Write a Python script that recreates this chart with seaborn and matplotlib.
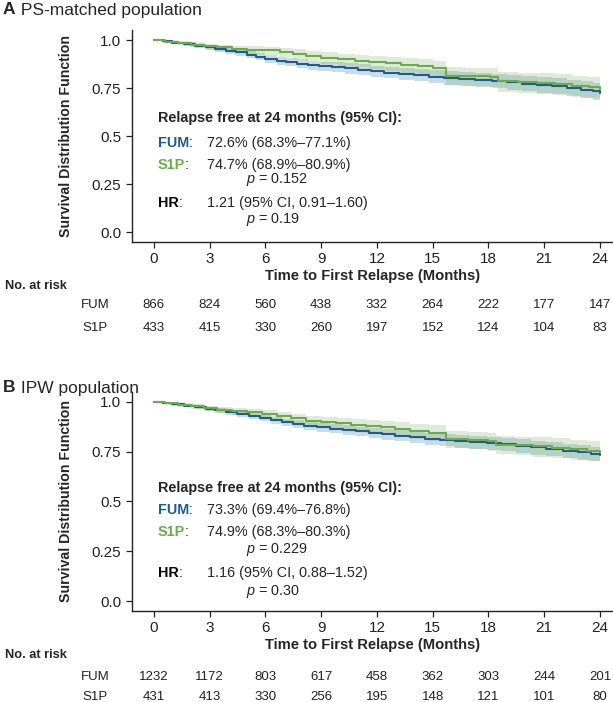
import matplotlib
matplotlib.use("Agg")
import matplotlib.pyplot as plt
import matplotlib.transforms as mtrans
import seaborn as sns

# ---- data ----
ticks_x = [0, 3, 6, 9, 12, 15, 18, 21, 24]
ticks_y = [0.0, 0.25, 0.5, 0.75, 1.0]
ticklab_y = ["0.0", "0.25", "0.5", "0.75", "1.0"]

# panel A: PS-matched
a_fum_t = [0, 0.5, 1.0, 1.6, 2.2, 2.8, 3.3, 3.9, 4.4, 5.0, 5.5, 6.0, 6.6, 7.1, 7.7, 8.3, 8.9, 9.6, 10.3,
           11.0, 11.7, 12.4, 13.2, 14.0, 14.8, 15.6, 16.4, 17.3, 18.2, 19.0, 19.8, 20.6, 21.4, 22.2, 23.0, 23.6, 24.0]
a_fum_s = [1.0, .993, .985, .978, .970, .962, .953, .944, .935, .924, .912, .902, .893, .884, .876, .868, .862, .857, .852,
           .846, .838, .830, .823, .816, .809, .802, .797, .793, .788, .779, .771, .765, .760, .749, .741, .733, .726]
a_fum_lo = [1.0, .988, .978, .969, .960, .950, .940, .929, .919, .907, .894, .882, .872, .862, .853, .844, .837, .831, .825,
            .818, .809, .800, .792, .784, .776, .768, .762, .757, .751, .741, .732, .725, .719, .707, .698, .690, .683]
a_fum_up = [1.0, .998, .992, .987, .980, .974, .966, .959, .951, .941, .930, .922, .914, .906, .899, .892, .887, .883, .879,
            .874, .867, .860, .854, .848, .842, .836, .832, .829, .825, .817, .810, .805, .801, .791, .784, .777, .771]

a_s1p_t = [0, 0.6, 1.3, 2.0, 2.7, 3.4, 4.2, 5.0, 5.9, 6.8, 7.5, 8.2, 9.0, 9.9, 10.8, 11.6, 12.5, 13.3, 14.2, 15.0,
           15.7, 16.8, 18.1, 18.5, 19.6, 20.6, 21.6, 22.5, 23.4, 24.0]
a_s1p_s = [1.0, .992, .984, .976, .968, .961, .954, .950, .946, .938, .928, .918, .908, .900, .892, .886, .878, .870, .862, .852,
           .813, .810, .806, .784, .780, .776, .770, .760, .754, .747]
a_s1p_lo = [1.0, .984, .973, .963, .953, .944, .935, .929, .923, .913, .901, .889, .877, .867, .857, .849, .840, .830, .820, .808,
            .765, .761, .756, .731, .726, .721, .714, .703, .696, .689]
a_s1p_up = [1.0, .998, .993, .987, .981, .976, .970, .968, .966, .960, .952, .943, .935, .929, .923, .918, .912, .905, .899, .891,
            .857, .855, .852, .833, .830, .827, .822, .813, .808, .809]

# panel B: IPW
b_fum_t = [0, 0.5, 1.0, 1.6, 2.2, 2.8, 3.3, 3.9, 4.5, 5.1, 5.7, 6.3, 6.9, 7.5, 8.1, 8.8, 9.5, 10.2, 10.9, 11.6,
           12.3, 13.0, 13.8, 14.6, 15.4, 16.2, 17.0, 17.9, 18.7, 19.5, 20.3, 21.1, 22.0, 22.8, 23.5, 24.0]
b_fum_s = [1.0, .994, .988, .981, .974, .966, .958, .949, .940, .930, .919, .908, .899, .889, .879, .872, .866, .860, .853, .845,
           .838, .831, .824, .816, .808, .803, .799, .794, .787, .780, .772, .766, .755, .748, .740, .733]
b_fum_lo = [1.0, .990, .982, .973, .965, .955, .946, .936, .925, .914, .902, .890, .880, .869, .858, .850, .843, .836, .828, .819,
            .811, .803, .795, .786, .777, .771, .766, .760, .752, .744, .735, .728, .716, .709, .701, .694]
b_fum_up = [1.0, .998, .993, .988, .982, .976, .969, .961, .953, .944, .934, .924, .916, .907, .898, .892, .887, .882, .876, .869,
            .863, .857, .851, .844, .837, .832, .829, .825, .819, .813, .806, .801, .791, .783, .775, .768]

b_s1p_t = [0, 0.6, 1.3, 2.0, 2.7, 3.4, 4.2, 5.0, 5.8, 6.6, 7.4, 8.2, 9.0, 9.8, 10.6, 11.4, 12.2, 13.0, 13.8, 14.8,
           15.7, 16.9, 18.0, 18.4, 19.4, 20.4, 21.4, 22.4, 23.3, 24.0]
b_s1p_s = [1.0, .993, .986, .978, .970, .962, .955, .948, .940, .930, .917, .905, .899, .893, .886, .879, .872, .864, .856, .846,
           .813, .808, .803, .786, .782, .777, .771, .764, .756, .749]
b_s1p_lo = [1.0, .986, .976, .965, .955, .944, .935, .926, .916, .904, .889, .875, .867, .860, .851, .843, .835, .825, .816, .804,
            .768, .762, .756, .737, .732, .726, .719, .710, .701, .683]
b_s1p_up = [1.0, .998, .993, .988, .982, .977, .972, .966, .960, .952, .941, .930, .926, .921, .915, .909, .903, .897, .890, .882,
            .852, .848, .844, .829, .826, .822, .817, .811, .805, .803]

a_risk_fum = [866, 824, 560, 438, 332, 264, 222, 177, 147]
a_risk_s1p = [433, 415, 330, 260, 197, 152, 124, 104, 83]
b_risk_fum = [1232, 1172, 803, 617, 458, 362, 303, 244, 201]
b_risk_s1p = [431, 413, 330, 256, 195, 148, 121, 101, 80]

a_txt = ["72.6% (68.3%\u201377.1%)", "74.7% (68.9%\u201380.9%)", "0.152", "1.21 (95% CI, 0.91\u20131.60)", "0.19"]
b_txt = ["73.3% (69.4%\u201376.8%)", "74.9% (68.3%\u201380.3%)", "0.229", "1.16 (95% CI, 0.88\u20131.52)", "0.30"]

BLUE = "#1f5e8c"
GREEN = "#6aab4b"

sns.set_style("ticks")
plt.rcParams["font.family"] = ["Liberation Sans", "DejaVu Sans"]
plt.rcParams["mathtext.fontset"] = "custom"
plt.rcParams["mathtext.it"] = "Liberation Sans:italic"
plt.rcParams["mathtext.rm"] = "Liberation Sans"

W, H = 613, 702
fig = plt.figure(figsize=(W / 100, H / 100), dpi=100)


def px_axes(l, t, r, b):
    return fig.add_axes([l / W, 1 - b / H, (r - l) / W, (b - t) / H])


def panel(ax, curves, txt, ty, risk, risk_y, title, title_y):
    for t, s, lo, up, c in curves:
        ax.fill_between(t, lo, up, step="post", color=c, alpha=0.22, lw=0)
    for t, s, lo, up, c in curves:
        sns.lineplot(x=t, y=s, ax=ax, color=c, lw=1.5, drawstyle="steps-post", estimator=None)
    ax.set_xlim(-1.2, 24.7)
    ax.set_ylim(-0.05, 1.05)
    ax.set_xticks(ticks_x)
    ax.set_yticks(ticks_y)
    ax.set_yticklabels(ticklab_y)
    ax.tick_params(labelsize=11, colors="#222222", length=4.5, width=0.9, pad=3)
    for sp in ["top", "right"]:
        ax.spines[sp].set_visible(False)
    for sp in ["left", "bottom"]:
        ax.spines[sp].set_linewidth(1.0)
        ax.spines[sp].set_color("#222222")
    ax.set_xlabel("Time to First Relapse (Months)", fontsize=10.6, fontweight="bold", labelpad=2)
    ax.set_ylabel("Survival Distribution Function", fontsize=10.2, fontweight="bold", labelpad=13)

    fs = 10.4
    x0, x1, x2 = 0.21, 2.85, 4.95
    ax.text(x0, ty[0], "Relapse free at 24 months (95% CI):", fontsize=fs, fontweight="bold", va="center")
    for lab, col, y in [("FUM", BLUE, ty[1]), ("S1P", GREEN, ty[2]), ("HR", "black", ty[4])]:
        t0 = ax.text(x0, y, lab, fontsize=fs, fontweight="bold", color=col, va="center")
        ax.annotate(":", xy=(1, 0), xycoords=t0, va="bottom", fontsize=fs)
    ax.text(x1, ty[1], txt[0], fontsize=fs, va="center")
    ax.text(x1, ty[2], txt[1], fontsize=fs, va="center")
    ax.text(x2, ty[3], "$p$ = " + txt[2], fontsize=fs, va="center")
    ax.text(x1, ty[4], txt[3], fontsize=fs, va="center")
    ax.text(x2, ty[5], "$p$ = " + txt[4], fontsize=fs, va="center")

    tr = mtrans.blended_transform_factory(ax.transData, fig.transFigure)
    fig.text(5 / W, 1 - risk_y[0] / H, "No. at risk", fontsize=9.2, fontweight="bold", va="center")
    for name, vals, y in [("FUM", risk[0], risk_y[1]), ("S1P", risk[1], risk_y[2])]:
        fig.text(95 / W, 1 - y / H, name, fontsize=9.5, ha="center", va="center", color="#222222")
        for xv, v in zip(ticks_x, vals):
            ax.text(xv, 1 - y / H, str(v), transform=tr, fontsize=9.5, ha="center", va="center",
                    color="#222222", clip_on=False)

    t0 = fig.text(3 / W, 1 - title_y / H, title[0], fontsize=12.5, fontweight="bold", va="center")
    ax.annotate(" " + title[1], xy=(1, 0), xycoords=t0, va="bottom", fontsize=12.5,
                annotation_clip=False)


axA = px_axes(131.5, 30.4, 613, 241.6)
panel(axA,
      [(a_fum_t, a_fum_s, a_fum_lo, a_fum_up, BLUE), (a_s1p_t, a_s1p_s, a_s1p_lo, a_s1p_up, GREEN)],
      a_txt, [0.594, 0.464, 0.349, 0.271, 0.151, 0.0625],
      (a_risk_fum, a_risk_s1p), [286, 305, 328], ("A", "PS-matched population"), 10)

axB = px_axes(131.5, 392, 613, 611)
panel(axB,
      [(b_fum_t, b_fum_s, b_fum_lo, b_fum_up, BLUE), (b_s1p_t, b_s1p_s, b_s1p_lo, b_s1p_up, GREEN)],
      b_txt, [0.568, 0.457, 0.347, 0.261, 0.141, 0.05],
      (b_risk_fum, b_risk_s1p), [655, 677, 697], ("B", "IPW population"), 388)

fig.savefig("out.png", dpi=100)
